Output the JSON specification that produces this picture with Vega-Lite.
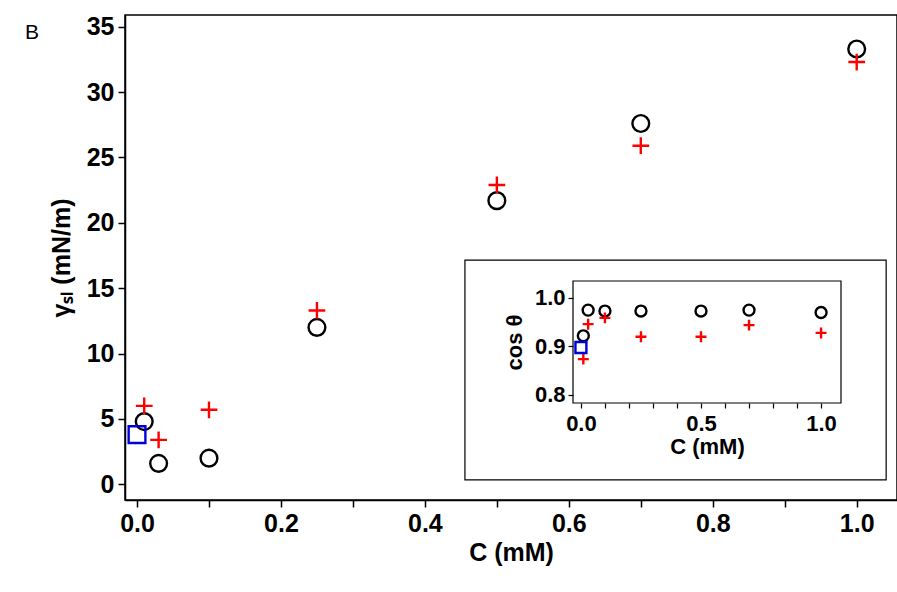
{
  "$schema": "https://vega.github.io/schema/vega-lite/v6.json",
  "width": 772,
  "height": 485,
  "autosize": "none",
  "padding": {"left": 125, "top": 15, "right": 0, "bottom": 92},
  "config": {
    "view": {"stroke": "black", "strokeWidth": 1.5},
    "font": "Liberation Sans",
    "axis": {"labelFont": "Liberation Sans", "titleFont": "Liberation Sans", "labelColor": "black", "titleColor": "black", "tickColor": "black", "domainColor": "black", "grid": false}
  },
  "title": {"text": "B", "anchor": "start", "frame": "group", "dx": -100, "dy": 32, "fontSize": 21, "fontWeight": "normal", "font": "Liberation Sans"},
  "datasets": {
    "main": [
      {"c": 0.01, "g": 4.8, "s": "circle"},
      {"c": 0.03, "g": 1.6, "s": "circle"},
      {"c": 0.1, "g": 2.0, "s": "circle"},
      {"c": 0.25, "g": 12.0, "s": "circle"},
      {"c": 0.5, "g": 21.7, "s": "circle"},
      {"c": 0.7, "g": 27.6, "s": "circle"},
      {"c": 1.0, "g": 33.3, "s": "circle"},
      {"c": 0.01, "g": 6.0, "s": "cross"},
      {"c": 0.03, "g": 3.4, "s": "cross"},
      {"c": 0.1, "g": 5.7, "s": "cross"},
      {"c": 0.25, "g": 13.3, "s": "cross"},
      {"c": 0.5, "g": 22.9, "s": "cross"},
      {"c": 0.7, "g": 25.9, "s": "cross"},
      {"c": 1.0, "g": 32.3, "s": "cross"},
      {"c": 0.0, "g": 3.8, "s": "square"}
    ],
    "inset": [
      {"c": 0.01, "g": 0.922, "s": "circle"},
      {"c": 0.03, "g": 0.975, "s": "circle"},
      {"c": 0.1, "g": 0.973, "s": "circle"},
      {"c": 0.25, "g": 0.973, "s": "circle"},
      {"c": 0.5, "g": 0.973, "s": "circle"},
      {"c": 0.7, "g": 0.975, "s": "circle"},
      {"c": 1.0, "g": 0.970, "s": "circle"},
      {"c": 0.01, "g": 0.874, "s": "cross"},
      {"c": 0.03, "g": 0.946, "s": "cross"},
      {"c": 0.1, "g": 0.959, "s": "cross"},
      {"c": 0.25, "g": 0.920, "s": "cross"},
      {"c": 0.5, "g": 0.920, "s": "cross"},
      {"c": 0.7, "g": 0.944, "s": "cross"},
      {"c": 1.0, "g": 0.928, "s": "cross"},
      {"c": 0.0, "g": 0.898, "s": "square"}
    ],
    "box": [{"c": -0.483, "c2": 1.271, "g": 0.625, "g2": 1.078}],
    "frame": [{"c": -0.033, "c2": 1.083, "g": 0.7835, "g2": 1.035}]
  },
  "layer": [
    {
      "data": {"name": "main"},
      "mark": {"type": "point", "filled": false, "strokeWidth": 2.4, "size": 280, "opacity": 1},
      "encoding": {
        "x": {"field": "c", "type": "quantitative",
          "scale": {"domain": [-0.0167, 1.056], "nice": false, "zero": false},
          "axis": {"title": "C (mM)", "titleFontSize": 25, "titleFontWeight": "bold", "labelFontSize": 25, "labelFontWeight": "bold", "values": [0, 0.1, 0.2, 0.3, 0.4, 0.5, 0.6, 0.7, 0.8, 0.9, 1.0], "labelExpr": "round(datum.value*10)%2==0 ? format(datum.value, '.1f') : ''", "tickSize": 7, "tickWidth": 1.5, "domainWidth": 1.5, "labelPadding": 4, "titlePadding": 4}},
        "y": {"field": "g", "type": "quantitative",
          "scale": {"domain": [-1.2, 35.9], "nice": false, "zero": false},
          "axis": {"title": "γₛₗ (mN/m)", "titleFontSize": 25, "titleFontWeight": "bold", "labelFontSize": 25, "labelFontWeight": "bold", "values": [0, 5, 10, 15, 20, 25, 30, 35], "tickSize": 7, "tickWidth": 1.5, "domainWidth": 1.5, "labelPadding": 4, "titlePadding": 12}},
        "shape": {"field": "s", "type": "nominal", "legend": null,
          "scale": {"domain": ["circle", "cross", "square"], "range": ["circle", "M-1,0L1,0M0,-1L0,1", "square"]}},
        "color": {"field": "s", "type": "nominal", "legend": null,
          "scale": {"domain": ["circle", "cross", "square"], "range": ["black", "#ff0000", "#0000dd"]}}
      }
    },
    {
      "layer": [
        {
          "data": {"name": "box"},
          "mark": {"type": "rect", "fill": "white", "stroke": "black", "strokeWidth": 1.2},
          "encoding": {
            "x": {"field": "c", "type": "quantitative",
              "scale": {"domain": [-0.033, 1.083], "range": [448, 716], "nice": false, "zero": false},
              "axis": {"orient": "bottom", "offset": -97, "zindex": 2, "domain": false, "title": "C (mM)", "titleFontSize": 22, "titleFontWeight": "bold", "labelFontSize": 22, "labelFontWeight": "bold", "values": [0, 0.1, 0.2, 0.3, 0.4, 0.5, 0.6, 0.7, 0.8, 0.9, 1.0], "labelExpr": "round(datum.value*10)%5==0 ? format(datum.value, '.1f') : ''", "tickSize": 5, "tickWidth": 1.2, "labelPadding": 5, "titlePadding": 2}},
            "x2": {"field": "c2"},
            "y": {"field": "g", "type": "quantitative",
              "scale": {"domain": [0.7835, 1.035], "range": [388, 266], "nice": false, "zero": false},
              "axis": {"orient": "left", "offset": -448, "zindex": 2, "domain": false, "title": "cos θ", "titleFontSize": 22, "titleFontWeight": "bold", "labelFontSize": 22, "labelFontWeight": "bold", "values": [0.8, 0.9, 1.0], "format": ".1f", "tickSize": 5, "tickWidth": 1.2, "labelPadding": 3, "titlePadding": 8}},
            "y2": {"field": "g2"}
          }
        },
        {
          "data": {"name": "frame"},
          "mark": {"type": "rect", "fill": null, "stroke": "black", "strokeWidth": 1.2},
          "encoding": {
            "x": {"field": "c", "type": "quantitative"},
            "x2": {"field": "c2"},
            "y": {"field": "g", "type": "quantitative"},
            "y2": {"field": "g2"}
          }
        },
        {
          "data": {"name": "inset"},
          "mark": {"type": "point", "filled": false, "strokeWidth": 2.4, "size": 120, "opacity": 1},
          "encoding": {
            "x": {"field": "c", "type": "quantitative"},
            "y": {"field": "g", "type": "quantitative"},
            "shape": {"field": "s", "type": "nominal", "legend": null,
              "scale": {"domain": ["circle", "cross", "square"], "range": ["circle", "M-1,0L1,0M0,-1L0,1", "square"]}},
            "color": {"field": "s", "type": "nominal", "legend": null,
              "scale": {"domain": ["circle", "cross", "square"], "range": ["black", "#ff0000", "#0000dd"]}}
          }
        }
      ]
    }
  ],
  "resolve": {"scale": {"x": "independent", "y": "independent"}, "axis": {"x": "independent", "y": "independent"}}
}
